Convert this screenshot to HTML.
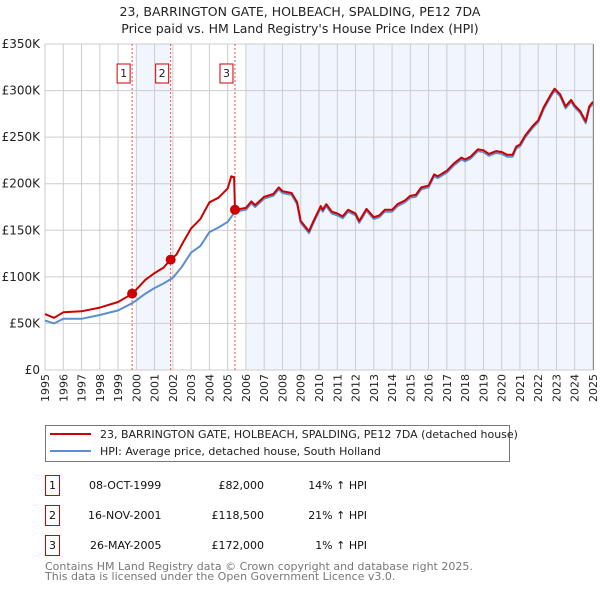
<!DOCTYPE html>
<html><head><meta charset="utf-8"><style>
body{margin:0;background:#fff;font-family:"DejaVu Sans","Liberation Sans",sans-serif;}
svg{display:block}
</style></head><body>
<svg id="c" width="600" height="590" xmlns="http://www.w3.org/2000/svg" font-family="DejaVu Sans, Liberation Sans, sans-serif">
<text x="300" y="16" text-anchor="middle" font-size="12.5" fill="#222">23, BARRINGTON GATE, HOLBEACH, SPALDING, PE12 7DA</text>
<text x="300" y="33" text-anchor="middle" font-size="12.5" fill="#222">Price paid vs. HM Land Registry's House Price Index (HPI)</text>
<g id="plot"></g>
<g>
<rect x="45.5" y="425.5" width="464" height="36" fill="#fff" stroke="#777"/>
<line x1="50" y1="434" x2="91" y2="434" stroke="#cc0000" stroke-width="2"/>
<text x="100" y="438" font-size="11" fill="#222">23, BARRINGTON GATE, HOLBEACH, SPALDING, PE12 7DA (detached house)</text>
<line x1="50" y1="451" x2="91" y2="451" stroke="#5b8fd0" stroke-width="2"/>
<text x="100" y="455" font-size="11" fill="#222">HPI: Average price, detached house, South Holland</text>
</g>
<g font-size="11" fill="#111">
<rect x="45.5" y="475.5" width="14" height="20" fill="none" stroke="#cc0000"/><text x="52.5" y="489" text-anchor="middle">1</text>
<text x="89" y="489">08-OCT-1999</text><text x="264" y="489" text-anchor="end">£82,000</text><text x="367" y="489" text-anchor="end">14% ↑ HPI</text>
<rect x="45.5" y="505.5" width="14" height="20" fill="none" stroke="#cc0000"/><text x="52.5" y="519" text-anchor="middle">2</text>
<text x="88" y="519">16-NOV-2001</text><text x="264" y="519" text-anchor="end">£118,500</text><text x="367" y="519" text-anchor="end">21% ↑ HPI</text>
<rect x="45.5" y="535.5" width="14" height="20" fill="none" stroke="#cc0000"/><text x="52.5" y="549" text-anchor="middle">3</text>
<text x="90" y="549">26-MAY-2005</text><text x="264" y="549" text-anchor="end">£172,000</text><text x="367" y="549" text-anchor="end">1% ↑ HPI</text>
</g>
<text x="45" y="570" font-size="11" fill="#777">Contains HM Land Registry data © Crown copyright and database right 2025.</text>
<text x="45" y="580" font-size="11" fill="#777">This data is licensed under the Open Government Licence v3.0.</text>
</svg>
<script>
const hpiYears=[1995,1995.5,1996,1997,1998,1999,1999.8,2000.5,2001,2001.5,2002,2002.5,2003,2003.5,2004,2004.5,2005,2005.4,2006,2006.3,2006.5,2007,2007.5,2007.8,2008,2008.5,2008.8,2009,2009.45,2009.7,2010.1,2010.2,2010.4,2010.7,2011,2011.3,2011.6,2012,2012.2,2012.6,2013,2013.3,2013.6,2014,2014.3,2014.7,2015,2015.3,2015.6,2016,2016.3,2016.5,2017,2017.4,2017.8,2018,2018.3,2018.7,2019,2019.3,2019.7,2020,2020.3,2020.6,2020.8,2021,2021.3,2021.7,2022,2022.3,2022.7,2022.9,2023.2,2023.5,2023.8,2024,2024.3,2024.6,2024.8,2025];
const hpiValues=[53,50,55,55,59,64,72,82,88,93,99,111,126,133,148,153,159,170,172,179,175,184,187,194,190,188,178,158,147,158,174,170,176,168,166,163,170,166,158,171,162,164,170,170,176,180,185,186,194,196,208,206,212,220,226,224,227,235,234,230,233,232,229,229,238,240,250,260,266,280,294,300,294,281,288,282,276,265,281,286];
const propYears=[1995,1995.5,1996,1997,1998,1999,1999.79,2000.5,2001,2001.5,2001.87,2002.2,2002.5,2003,2003.5,2004,2004.5,2005,2005.2,2005.35,2005.4,2006,2006.3,2006.5,2007,2007.5,2007.8,2008,2008.5,2008.8,2009,2009.45,2009.7,2010.1,2010.2,2010.4,2010.7,2011,2011.3,2011.6,2012,2012.2,2012.6,2013,2013.3,2013.6,2014,2014.3,2014.7,2015,2015.3,2015.6,2016,2016.3,2016.5,2017,2017.4,2017.8,2018,2018.3,2018.7,2019,2019.3,2019.7,2020,2020.3,2020.6,2020.8,2021,2021.3,2021.7,2022,2022.3,2022.7,2022.9,2023.2,2023.5,2023.8,2024,2024.3,2024.6,2024.8,2025];
const propValues=[60,56,62,63,67,73,82,97,104,110,118.5,124,135,152,162,180,185,195,208,207,172,174,181,177,186,189,196,192,190,180,160,149,160,176,172,178,170,168,165,172,168,160,173,164,166,172,172,178,182,187,188,196,198,210,208,214,222,228,226,229,237,236,232,235,234,231,231,240,242,252,262,268,282,296,302,296,283,290,284,278,267,283,288];
const saleYears=[1999.77,2001.88,2005.4];
const saleValues=[82,118.5,172];
const saleLabels=["1","2","3"];
const yTicks=[0,50,100,150,200,250,300,350];
const yTickLabels=["£0","£50K","£100K","£150K","£200K","£250K","£300K","£350K"];
const xTicks=[1995,1996,1997,1998,1999,2000,2001,2002,2003,2004,2005,2006,2007,2008,2009,2010,2011,2012,2013,2014,2015,2016,2017,2018,2019,2020,2021,2022,2023,2024,2025];
const shadeRanges=[[2000,2001.88],[2006,2025]];

const X0=45,X1=593,Y0=370,Y1=44;
const xs=y=>X0+(y-1995)/30*(X1-X0);
const ys=v=>Y0-v/350*(Y0-Y1);
const NS="http://www.w3.org/2000/svg";
const plot=document.getElementById('plot');
function mk(t,a,p){const e=document.createElementNS(NS,t);for(const k in a)e.setAttribute(k,a[k]);(p||plot).appendChild(e);return e;}

shadeRanges.forEach((r,i)=>{
 const e=mk('rect',{x:xs(r[0]),y:Y1,width:xs(r[1])-xs(r[0]),height:Y0-Y1,fill:'#eef3fd',opacity:0.8});
 
 
});
xTicks.forEach(t=>{
 const g=mk('line',{x1:xs(t),x2:xs(t),y1:Y1,y2:Y0,stroke:'#ccc','stroke-width':1});
 
 
 const l=mk('text',{x:0,y:0,transform:`translate(${xs(t)+4},${Y0+4}) rotate(-90)`,'text-anchor':'end','font-size':11,fill:'#222'});
 l.textContent=t;
 
 
});
yTicks.forEach((t,i)=>{
 const g=mk('line',{x1:X0,x2:X1,y1:ys(t),y2:ys(t),stroke:'#ccc','stroke-width':1});
 
 
 const l=mk('text',{x:40,y:ys(t)+4,'text-anchor':'end','font-size':12,fill:'#222'});
 l.textContent=yTickLabels[i];
 
 
});
saleYears.forEach((s,i)=>{
 const l=mk('line',{x1:xs(s),x2:xs(s),y1:Y1,y2:Y0,stroke:'#e05050','stroke-width':1,'stroke-dasharray':'2,2'});
 
 
 const b=mk('rect',{x:xs(s)-15,y:64,width:13,height:19,fill:'#fff',stroke:'#cc0000'});
 
 
 const t=mk('text',{x:xs(s)-8.5,y:77,'text-anchor':'middle','font-size':11,fill:'#222'});
 t.textContent=saleLabels[i];
 
 
});
function pts(xa,va){return xa.map((x,i)=>xs(x).toFixed(1)+','+ys(va[i]).toFixed(1)).join(' ');}
const h=mk('polyline',{points:pts(hpiYears,hpiValues),fill:'none',stroke:'#5b8fd0','stroke-width':2,'stroke-linejoin':'round'});


const p=mk('polyline',{points:pts(propYears,propValues),fill:'none',stroke:'#cc0000','stroke-width':2,'stroke-linejoin':'round'});


saleYears.forEach((s,i)=>{
 const c=mk('circle',{cx:xs(s),cy:ys(saleValues[i]),r:5,fill:'#cc0000'});
 
 
});
const ax=mk('line',{x1:X1+0.5,x2:X1+0.5,y1:Y1,y2:Y0,stroke:'#888','stroke-width':1});


</script>
</body></html>
